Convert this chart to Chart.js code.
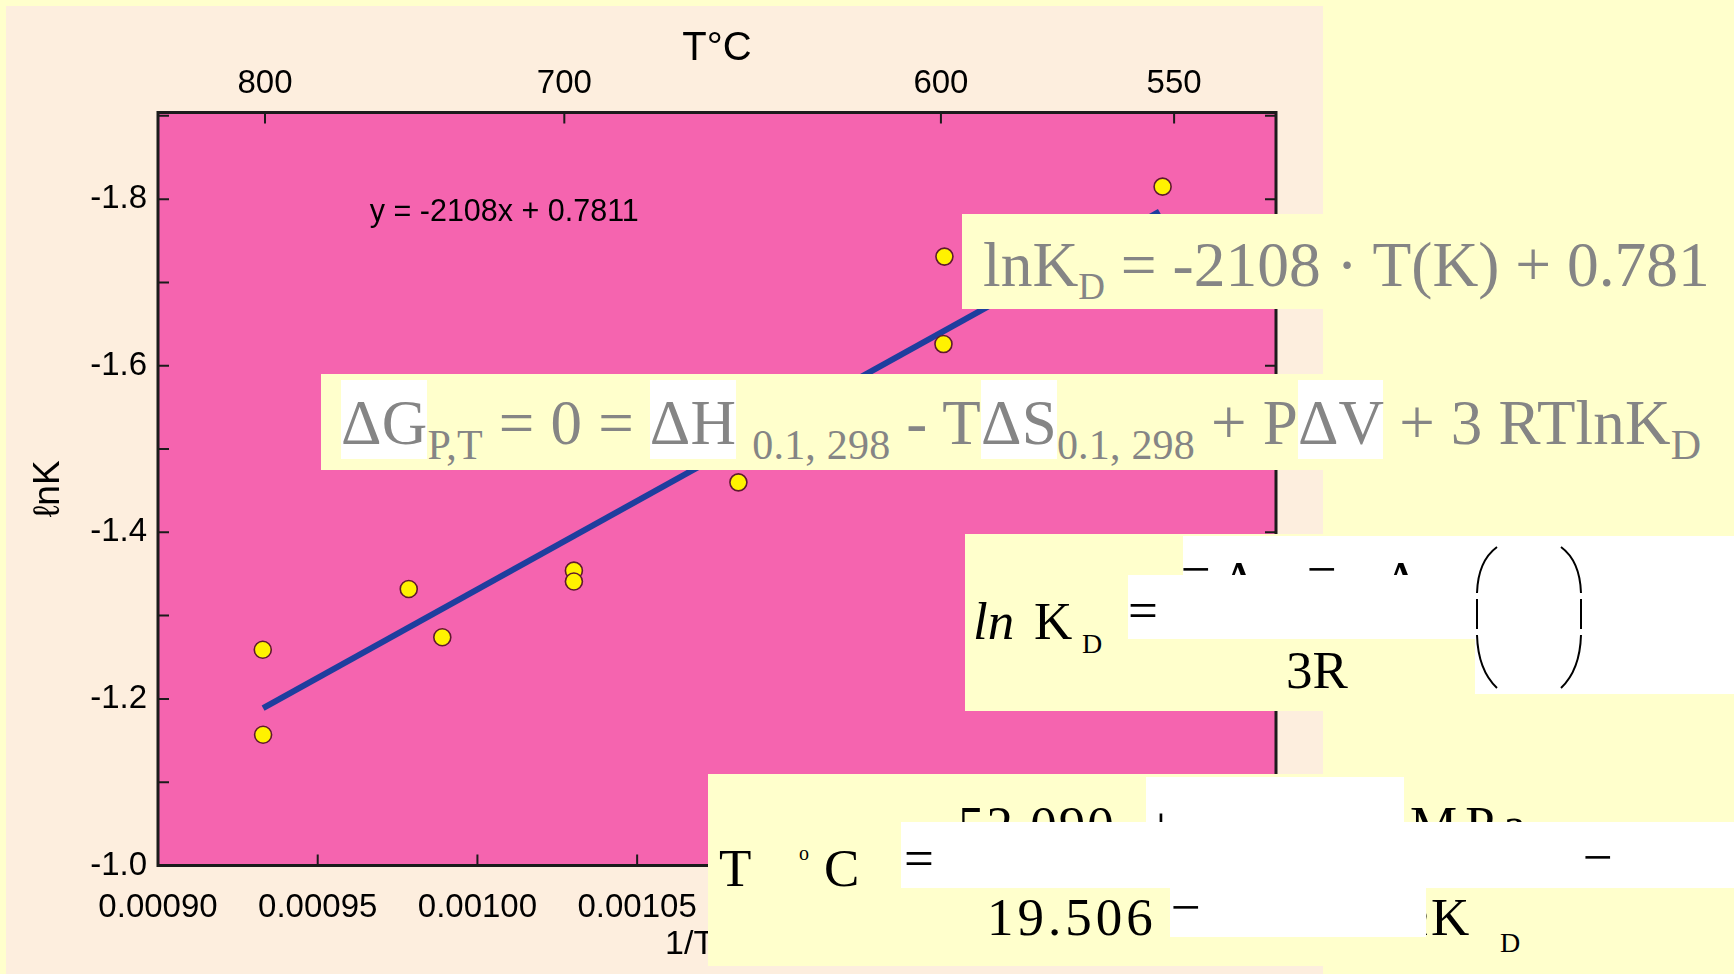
<!DOCTYPE html>
<html>
<head>
<meta charset="utf-8">
<script src="https://cdn.jsdelivr.net/npm/chart.js@4.4.0/dist/chart.umd.min.js"></script>
<style>
  html, body { margin: 0; padding: 0; }
  body { width: 1734px; height: 974px; background: #FFFFCC; position: relative; overflow: hidden; }
  #panel { position: absolute; left: 6px; top: 6px; width: 1317px; height: 968px; background: #FDEEDE; }
  #wrap { position: absolute; left: 0; top: 0; width: 1734px; height: 974px; }
  .box { position: absolute; background: #FFFFCC; }
  .white { position: absolute; background: #FFFFFF; }
  .t { position: absolute; white-space: pre; line-height: 1; font-family: "Liberation Serif", "Times New Roman", serif; }
  .gray { color: #858585; }
  .blk { color: #000; }
  .w { background: #FFFFFF; padding: 8px 0 1px 0; }
  .t sub { font-size: 42px; vertical-align: -15px; line-height: 1; }
  .t sub.a { font-size: 37px; vertical-align: -13px; }
  svg { position: absolute; }
</style>
</head>
<body>
<div id="panel"></div>
<div id="wrap"><canvas id="chart"></canvas></div>
<div id="overlay"></div>

<script>
// ------------------------------------
// DATA
// ------------------------------------
const invT = [0.0009328, 0.0009329, 0.0009785, 0.0009890, 0.0010302, 0.0010302, 0.0010817, 0.0011462, 0.0011459, 0.0012145];
const lnK  = [-1.259, -1.157, -1.332, -1.274, -1.354, -1.341, -1.460, -1.731, -1.626, -1.815];

// fitted line, end points
const fitX = [0.0009329, 0.0012135];
const fitY = [-1.189, -1.785];
const fitLabel = "y = -2108x + 0.7811";

// axis ticks
const xTicks = [0.00090, 0.00095, 0.00100, 0.00105, 0.00110, 0.00115, 0.00120, 0.00125];
const yMajor = [-1.8, -1.6, -1.4, -1.2, -1.0];
const yMinor = [-1.9, -1.7, -1.5, -1.3, -1.1];
const topTicks  = [0.0009335, 0.0010272, 0.0011451, 0.0012181];
const topLabels = ["800", "700", "600", "550"];

const X_MIN = 0.00090, X_MAX = 0.00125;
const Y_MIN = -1.904, Y_MAX = -1.0;

// ------------------------------------
// PLOT FRAME / INWARD TICKS PLUGIN
// ------------------------------------
const framePlugin = {
    id: "frame",
    beforeDraw(chart) {
        const { ctx, chartArea: a } = chart;
        ctx.save();
        ctx.fillStyle = "#F564AF";
        ctx.fillRect(a.left, a.top, a.right - a.left, a.bottom - a.top);
        ctx.restore();
    },
    afterDatasetsDraw(chart) {
        const { ctx, scales } = chart;
        ctx.save();
        ctx.font = "30.5px 'Liberation Sans', Arial, sans-serif";
        ctx.fillStyle = "#000";
        ctx.textBaseline = "middle";
        ctx.textAlign = "left";
        ctx.fillText(fitLabel, scales.x.getPixelForValue(0.0009663), scales.y.getPixelForValue(-1.7836));
        ctx.restore();
    },
    afterDraw(chart) {
        const { ctx, chartArea: a, scales } = chart;
        const len = 11;
        ctx.save();
        ctx.strokeStyle = "#1b1b1b";
        ctx.lineWidth = 2;
        ctx.beginPath();
        scales.y.ticks.forEach(t => {
            const py = scales.y.getPixelForValue(t.value);
            ctx.moveTo(a.left, py);  ctx.lineTo(a.left + len, py);
            ctx.moveTo(a.right, py); ctx.lineTo(a.right - len, py);
        });
        scales.x.ticks.forEach((t, i) => {
            if (i === 0 || i === scales.x.ticks.length - 1) return;
            const px = scales.x.getPixelForValue(t.value);
            ctx.moveTo(px, a.bottom); ctx.lineTo(px, a.bottom - len);
        });
        scales.x2.ticks.forEach(t => {
            const px = scales.x2.getPixelForValue(t.value);
            ctx.moveTo(px, a.top); ctx.lineTo(px, a.top + len);
        });
        ctx.stroke();
        ctx.lineWidth = 3;
        ctx.strokeRect(a.left, a.top, a.right - a.left, a.bottom - a.top);
        ctx.restore();
    }
};

// ------------------------------------
// CHART
// ------------------------------------
const FONT = "'Liberation Sans', Arial, sans-serif";
Chart.defaults.color = "#000";

const ctx = document.getElementById("chart").getContext("2d");

new Chart(ctx, {
    type: "scatter",
    data: {
        datasets: [{
            label: "lnK",
            data: invT.map((x, i) => ({ x: x, y: lnK[i] })),
            pointRadius: 8.5,
            pointBackgroundColor: "#FFF200",
            pointBorderColor: "#5E1A2E",
            pointBorderWidth: 1.6,
            showLine: false,
            order: 0
        }, {
            label: "fit",
            data: fitX.map((x, i) => ({ x: x, y: fitY[i] })),
            showLine: true,
            borderColor: "#1E3E9E",
            borderWidth: 6,
            pointRadius: 0,
            order: 1
        }]
    },
    options: {
        responsive: true,
        maintainAspectRatio: false,
        animation: false,
        layout: { padding: { left: 0, top: 0, right: 458, bottom: 0 } },
        plugins: { legend: { display: false }, tooltip: { enabled: false } },
        scales: {
            x: {
                type: "linear", position: "bottom", min: X_MIN, max: X_MAX,
                grid: { display: false, drawTicks: false }, border: { display: false },
                afterBuildTicks: s => { s.ticks = xTicks.map(v => ({ value: v })); },
                afterFit: s => { s.height = 108.5; },
                ticks: { autoSkip: false, maxRotation: 0, padding: 23, font: { family: FONT, size: 33 },
                         callback: v => v.toFixed(5) },
                title: { display: true, text: "1/T (K)", font: { family: FONT, size: 34 }, padding: { bottom: 9 } }
            },
            x2: {
                type: "linear", position: "top", axis: "x", min: X_MIN, max: X_MAX,
                grid: { display: false, drawTicks: false }, border: { display: false },
                afterBuildTicks: s => { s.ticks = topTicks.map(v => ({ value: v })); },
                afterFit: s => { s.height = 112.5; },
                ticks: { autoSkip: false, maxRotation: 0, padding: 9, font: { family: FONT, size: 33 },
                         callback: (v, i) => topLabels[i] },
                title: { display: true, text: "T°C", font: { family: FONT, size: 40 }, padding: { top: 25 } }
            },
            y: {
                type: "linear", position: "left", reverse: true, min: Y_MIN, max: Y_MAX,
                grid: { display: false, drawTicks: false }, border: { display: false },
                afterBuildTicks: s => {
                    s.ticks = yMinor.concat(yMajor).sort((a, b) => a - b).map(v => ({ value: v }));
                },
                afterFit: s => { s.width = 158; },
                ticks: { autoSkip: false, padding: 11, font: { family: FONT, size: 33 },
                         callback: v => yMajor.some(m => Math.abs(m - v) < 1e-9) ? v.toFixed(1) : "" },
                title: { display: true, text: "ℓnK", font: { family: FONT, size: 37 }, padding: { top: 27 } }
            }
        }
    },
    plugins: [framePlugin]
});

// ------------------------------------
// EQUATION BOXES ON TOP OF THE CHART
// ------------------------------------
const ov = document.getElementById("overlay");

function rect(x, y, w, h, cls) {
    const d = document.createElement("div");
    d.className = cls;
    d.style.left = x + "px"; d.style.top = y + "px";
    d.style.width = w + "px"; d.style.height = h + "px";
    ov.appendChild(d);
}

function text(x, base, size, html, cls, extra) {
    const d = document.createElement("div");
    d.className = "t " + cls;
    d.style.left = x + "px";
    d.style.top = (base - 0.8375 * size) + "px";
    d.style.fontSize = size + "px";
    if (extra) d.style.cssText += extra;
    d.innerHTML = html;
    ov.appendChild(d);
}

// lnKD = -2108 · T(K) + 0.781
rect(962, 214, 772, 95, "box");
text(983, 286, 63.5, 'lnK<sub class="a">D</sub> = -2108 · T(K) + 0.781', "gray");

// ΔG = 0 = ...
rect(321, 374, 1413, 96, "box");
text(341, 445, 63, '<span class="w">ΔG</span><sub>P,T</sub> = 0 = <span class="w">ΔH</span> <sub>0.1, 298</sub> - T<span class="w">ΔS</span><sub>0.1, 298</sub> + P<span class="w">ΔV</span> + 3 RTlnK<sub>D</sub>',
    "gray", "letter-spacing:0.2px;");

// ln KD = ... / 3R ( )
rect(965, 534, 769, 177, "box");
rect(1183, 536, 551, 39, "white");
text(1181, 587, 53, "−", "blk");
text(1222, 598, 53, "Δ", "blk");
text(1307, 587, 53, "−", "blk");
text(1384, 598, 53, "Δ", "blk");
rect(1128, 575, 347, 64, "white");
rect(1475, 536, 259, 158, "white");
text(973, 639, 53, "ln", "blk", "font-style:italic;");
text(1034, 639, 53, "K", "blk");
text(1082, 653, 28, "D", "blk");
text(1128, 628, 53, "=", "blk");
text(1286, 688, 53, "3R", "blk");
ov.insertAdjacentHTML("beforeend",
    '<svg style="left:1470px;top:545px" width="120" height="150" fill="none" stroke="#000" stroke-width="2">' +
    '<path d="M27 2 Q8 16 7 48"/><path d="M7 54 L7 84"/><path d="M7 90 Q8 125 27 143"/>' +
    '<path d="M91 2 Q110 16 111 48"/><path d="M111 54 L111 84"/><path d="M111 90 Q110 125 91 143"/>' +
    '</svg>');

// T °C = ...
rect(708, 774, 1026, 192, "box");
rect(1146, 777, 258, 45, "white");
text(958, 843, 53, "52.090", "blk", "letter-spacing:2px;");
text(1146, 843, 53, "+", "blk");
text(1410, 843, 53, "MPa", "blk", "letter-spacing:8px;");
rect(901, 822, 833, 66, "white");
text(1388, 935, 53, "ln", "blk", "font-style:italic;");
rect(1170, 888, 256, 49, "white");
text(719, 886, 53, "T", "blk");
text(799, 860, 20, "o", "blk");
text(824, 886, 53, "C", "blk");
text(904, 876, 53, "=", "blk");
text(1583, 875, 53, "−", "blk");
text(987, 935, 53, "19.506", "blk", "letter-spacing:4px;");
text(1171, 925, 53, "−", "blk");
text(1431, 935, 53, "K", "blk");
text(1500, 952, 28, "D", "blk");
</script>
</body>
</html>
